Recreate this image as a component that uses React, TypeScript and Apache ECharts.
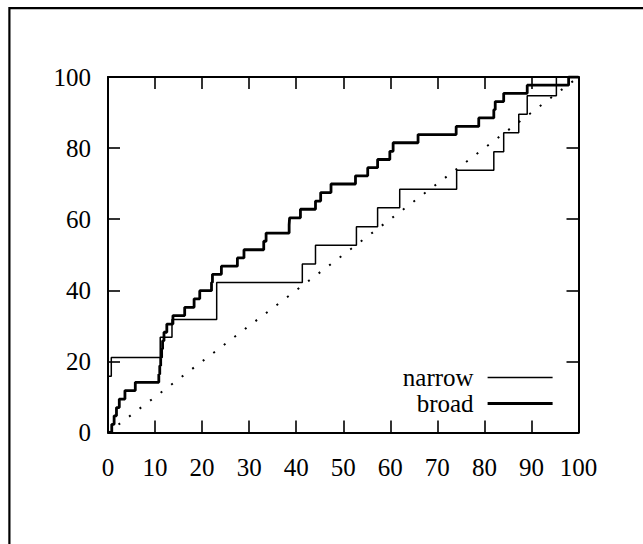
import React, { useEffect, useRef } from 'react';
import * as echarts from 'echarts';

// tick values
const xTickMin = 0;
const xTickMax = 100;
const xTickStep = 10;
const yTickMin = 0;
const yTickMax = 100;
const yTickStep = 20;

// "narrow" cumulative curve (x where the step occurs, y after the step)
const narrowX = [0, 0, 0.7, 11.1, 13.6, 23.1, 41.3, 44.1, 52.8, 57.3, 62.0, 74.1, 82.0, 84.1, 87.3, 89.1, 95.3, 100];
const narrowY = [0, 15.8, 21.1, 26.8, 31.8, 42.2, 47.4, 52.7, 57.9, 63.2, 68.4, 73.8, 79.0, 84.3, 89.5, 94.7, 100, 100];

// "broad" cumulative curve
const broadX = [0, 0.8, 1.3, 1.8, 2.4, 3.6, 5.8, 10.8, 11.0, 11.2, 11.4, 11.6, 11.9, 12.5, 13.8, 16.3, 18.3, 19.5, 22.0, 22.2, 24.1, 27.5, 28.9, 33.1, 33.6, 38.5, 38.6, 40.9, 44.1, 45.2, 47.4, 52.6, 55.2, 57.3, 59.9, 60.6, 65.9, 74.0, 78.8, 82.0, 82.3, 84.1, 89.1, 97.9, 100];
const broadY = [0, 2.3, 4.7, 7.0, 9.4, 11.8, 14.1, 16.4, 18.8, 21.1, 23.5, 25.8, 28.2, 30.5, 32.9, 35.2, 37.6, 39.9, 42.2, 44.5, 46.8, 49.1, 51.4, 53.8, 56.1, 58.4, 60.4, 62.8, 65.1, 67.5, 69.9, 72.2, 74.5, 76.8, 79.1, 81.5, 83.8, 86.1, 88.5, 90.8, 93.1, 95.4, 97.7, 100, 100];

// diagonal reference
const diagX = [0, 100];
const diagY = [0, 100];

const seriesNames = ['narrow', 'broad'];
const seriesWidths = [1.5, 2.8];

const FONT = '"Liberation Serif", "Times New Roman", serif';

function zip(xs: number[], ys: number[]) {
  return xs.map((x, i) => [x, ys[i]]);
}

export default function App() {
  const ref = useRef<HTMLDivElement>(null);
  useEffect(() => {
    if (!ref.current) return;
    const chart = echarts.init(ref.current, undefined, { renderer: 'svg' });
    const axisCommon = {
      type: 'value' as const,
      splitLine: { show: false },
      axisLine: { show: true, onZero: false, lineStyle: { color: '#000', width: 2 } },
      axisTick: { show: true, inside: true, length: 12, lineStyle: { color: '#000', width: 1.6 } },
    };
    chart.setOption({
      animation: false,
      backgroundColor: '#fff',
      grid: { left: 108, right: 64.5, top: 77, bottom: 111.5, containLabel: false },
      xAxis: [
        {
          ...axisCommon,
          position: 'bottom',
          min: xTickMin,
          max: xTickMax,
          interval: xTickStep,
          axisLabel: { show: true, color: '#000', fontFamily: FONT, fontSize: 25, margin: 22 },
        },
        {
          ...axisCommon,
          position: 'top',
          min: xTickMin,
          max: xTickMax,
          interval: xTickStep,
          axisLabel: { show: false },
        },
      ],
      yAxis: [
        {
          ...axisCommon,
          position: 'left',
          min: yTickMin,
          max: yTickMax,
          interval: yTickStep,
          axisLabel: { show: true, color: '#000', fontFamily: FONT, fontSize: 25, margin: 17, padding: [6, 0, 0, 0] },
        },
        {
          ...axisCommon,
          position: 'right',
          min: yTickMin,
          max: yTickMax,
          interval: yTickStep,
          axisLabel: { show: false },
        },
      ],
      legend: {
        data: seriesNames.map((name, i) => ({
          name,
          lineStyle: { color: '#000', width: seriesWidths[i] },
          itemStyle: { opacity: 0, borderWidth: 0 },
        })),
        orient: 'vertical',
        align: 'right',
        right: 89,
        top: 365,
        padding: 0,
        itemGap: 1,
        itemWidth: 65,
        itemHeight: 2,
        selectedMode: false,
        textStyle: { color: '#000', fontFamily: FONT, fontSize: 25, lineHeight: 25, padding: [0, 9, 0, 0] },
      },
      graphic: [
        {
          type: 'rect',
          shape: { x: 9.4, y: 8.2, width: 900, height: 900 },
          style: { fill: 'none', stroke: '#000', lineWidth: 2.2 },
          silent: true,
        },
      ],
      series: [
        {
          type: 'line',
          data: zip(diagX, diagY),
          symbol: 'none',
          silent: true,
          lineStyle: { color: '#000', width: 2, type: [2, 11.2], cap: 'butt' },
          z: 1,
        },
        {
          name: seriesNames[0],
          type: 'line',
          step: 'end',
          data: zip(narrowX, narrowY),
          symbol: 'none',
          itemStyle: { color: '#000' },
          lineStyle: { color: '#000', width: seriesWidths[0] },
          z: 3,
        },
        {
          name: seriesNames[1],
          type: 'line',
          step: 'end',
          data: zip(broadX, broadY),
          symbol: 'none',
          itemStyle: { color: '#000' },
          lineStyle: { color: '#000', width: seriesWidths[1] },
          z: 2,
        },
      ],
    });
    return () => chart.dispose();
  }, []);
  return (
    <div
      ref={ref}
      style={{ position: 'absolute', left: 0, top: 0, width: 643, height: 544 }}
    />
  );
}
